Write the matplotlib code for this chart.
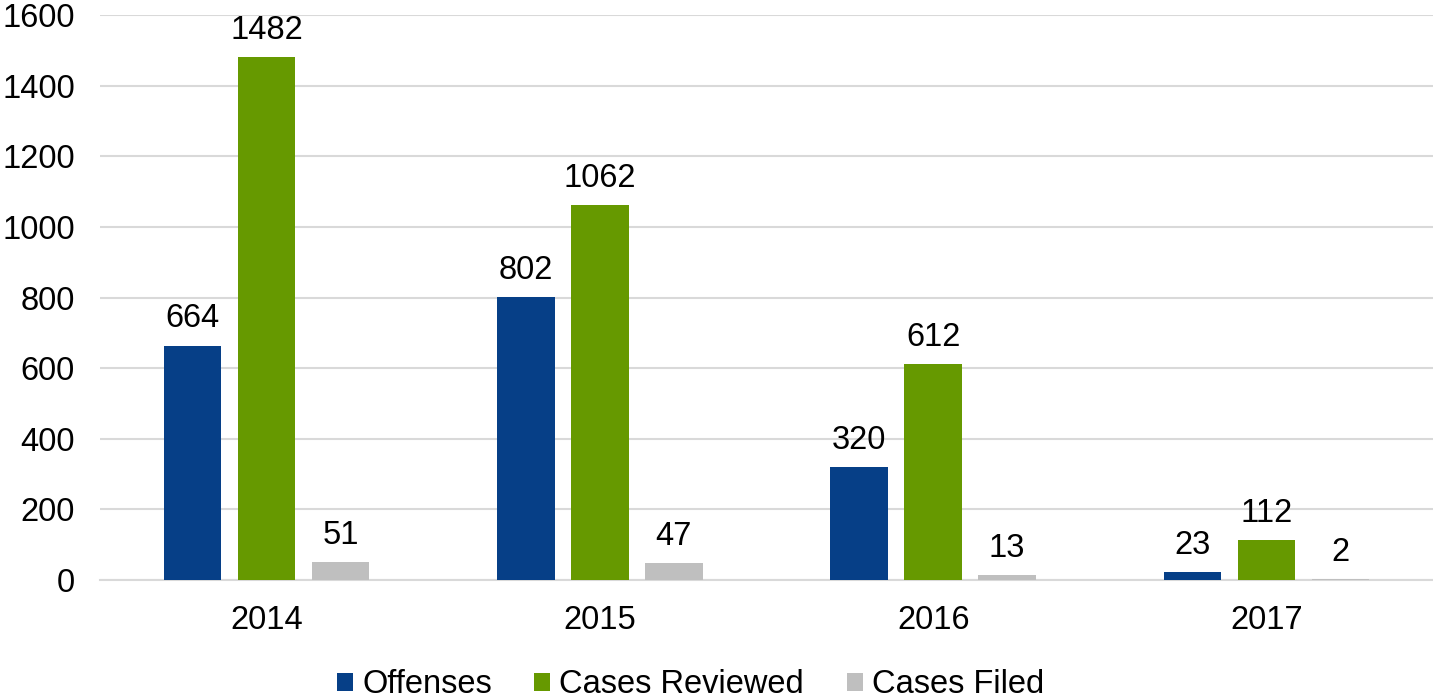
import matplotlib.pyplot as plt
import numpy as np

plt.rcParams['font.family'] = ['Liberation Sans', 'DejaVu Sans']

years = ['2014', '2015', '2016', '2017']
offenses = [664, 802, 320, 23]
reviewed = [1482, 1062, 612, 112]
filed = [51, 47, 13, 2]

series = [('Offenses', offenses, '#063f87'),
          ('Cases Reviewed', reviewed, '#669900'),
          ('Cases Filed', filed, '#bfbfbf')]

fs = 23.5

fig = plt.figure(figsize=(14.33, 6.98), dpi=100)
ax = fig.add_axes([0.0698, 0.169, 0.9302, 0.8095])

x = np.arange(len(years))
width = 0.172
step = 0.222
for i, (name, vals, color) in enumerate(series):
    bars = ax.bar(x + (i - 1) * step, vals, width, color=color, label=name, zorder=3)
    ax.bar_label(bars, padding=8, fontsize=fs)

ax.set_xlim(-0.5, 3.5)
ax.set_ylim(0, 1600)
ax.set_yticks(range(0, 1601, 200))
ax.set_xticks(x)
ax.set_xticklabels(years)
ax.tick_params(axis='both', length=0, labelsize=fs)
ax.tick_params(axis='y', pad=18)
ax.tick_params(axis='x', pad=18)
ax.grid(axis='y', color='#d9d9d9', linewidth=1.5, zorder=0)
for s in ['top', 'right', 'left']:
    ax.spines[s].set_visible(False)
ax.spines['bottom'].set_color('#d9d9d9')
ax.spines['bottom'].set_linewidth(1.5)

ax.legend(loc='lower center', bbox_to_anchor=(0.443, -0.265), ncol=3, frameon=False,
          fontsize=fs, handlelength=0.49, handleheight=0.49, handletextpad=0.28,
          columnspacing=1.3)

plt.savefig('out.png', dpi=100)
